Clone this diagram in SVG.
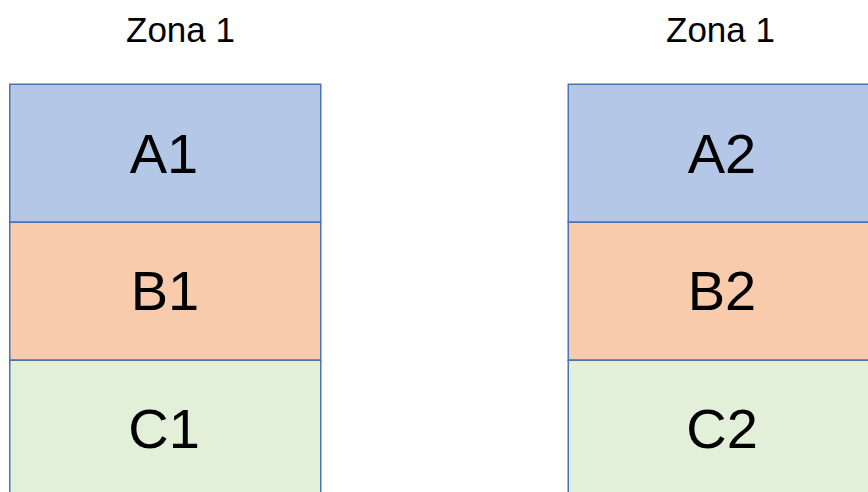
<svg xmlns="http://www.w3.org/2000/svg" width="868" height="492" viewBox="0 0 868 492">
  <style>
    .cell { stroke: #4A72B8; stroke-width: 1.5; }
    .a { fill: #B4C7E7; }
    .b { fill: #F8CBAD; }
    .c { fill: #E2F0D9; }
    .lbl { font-family: "Liberation Sans", Arial, sans-serif; font-size: 56px; fill: #000; text-anchor: middle; }
    .title { font-family: "Liberation Sans", Arial, sans-serif; font-size: 35px; fill: #000; text-anchor: middle; }
  </style>
  <rect width="868" height="492" fill="#FFFFFF"/>

  <!-- Left zone -->
  <text id="title-left" class="title" x="180.5" y="42">Zona 1</text>
  <g id="A1">
    <rect class="cell a" x="9.75" y="84.25" width="311" height="138"/>
    <text class="lbl" x="164" y="173">A1</text>
  </g>
  <g id="B1">
    <rect class="cell b" x="9.75" y="222.25" width="311" height="138"/>
    <text class="lbl" x="165" y="310">B1</text>
  </g>
  <g id="C1">
    <rect class="cell c" x="9.75" y="360.25" width="311" height="138"/>
    <text class="lbl" x="164" y="448">C1</text>
  </g>

  <!-- Right zone -->
  <text id="title-right" class="title" x="720.5" y="42">Zona 1</text>
  <g id="A2">
    <rect class="cell a" x="568.25" y="84.25" width="311" height="138"/>
    <text class="lbl" x="722" y="173">A2</text>
  </g>
  <g id="B2">
    <rect class="cell b" x="568.25" y="222.25" width="311" height="138"/>
    <text class="lbl" x="722" y="310">B2</text>
  </g>
  <g id="C2">
    <rect class="cell c" x="568.25" y="360.25" width="311" height="138"/>
    <text class="lbl" x="722" y="448">C2</text>
  </g>

  <g id="connectors"></g>
</svg>
